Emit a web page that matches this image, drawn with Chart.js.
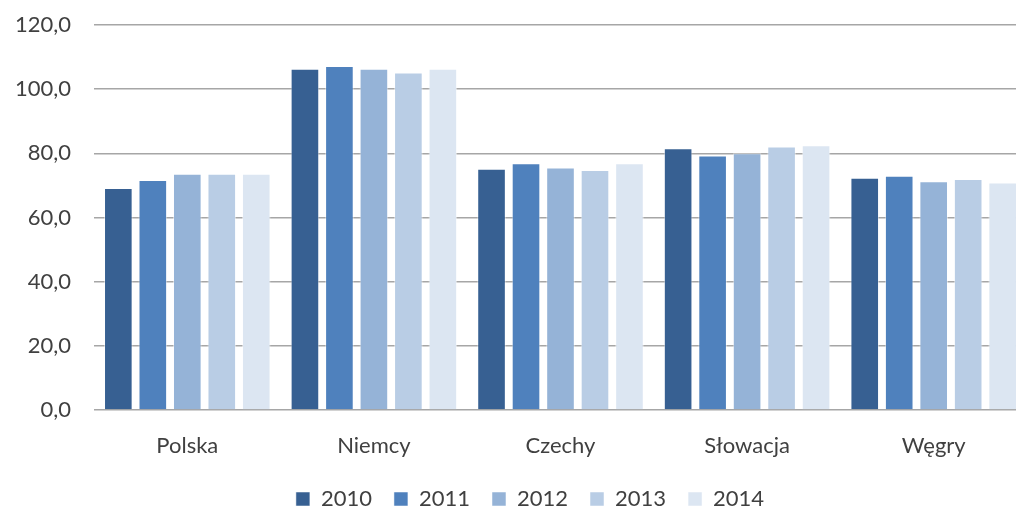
<!DOCTYPE html>
<html lang="pl">
<head>
<meta charset="utf-8">
<title>Wskaźnik 2010–2014</title>
<script src="https://cdn.jsdelivr.net/npm/chart.js@4/dist/chart.umd.min.js"></script>
<style>
  html, body { margin: 0; padding: 0; background: #fff; overflow: hidden; }
  #wrap { width: 1060px; height: 508px; }
</style>
</head>
<body>
<div id="wrap"><canvas id="countryChart" width="1060" height="508"></canvas></div>
<script>
const countries = ['Polska', 'Niemcy', 'Czechy', 'Słowacja', 'Węgry'];
const years = ['2010', '2011', '2012', '2013', '2014'];
const yearColors = ['#376092', '#4f81bd', '#95b3d7', '#b9cde5', '#dce6f2'];
const yTicks = [0, 20, 40, 60, 80, 100, 120];

// one array per year, in the order of countries
const v2010 = [69.2, 106.4, 75.2, 81.6, 72.4];
const v2011 = [71.7, 107.2, 76.9, 79.3, 73.0];
const v2012 = [73.6, 106.4, 75.6, 80.0, 71.3];
const v2013 = [73.6, 105.2, 74.8, 82.1, 72.0];
const v2014 = [73.6, 106.4, 76.9, 82.5, 70.9];
const seriesValues = [v2010, v2011, v2012, v2013, v2014];

const textColor = '#404040';
const font = { family: 'Lato, "Noto Sans", sans-serif', size: 22 };

// keep the legend strip short so the plot gets the height
const legendHeight = {
  id: 'legendHeight',
  afterInit(chart) {
    const lg = chart.legend;
    const fit = lg.fit;
    lg.fit = function () {
      fit.call(this);
      this.height = 42;
    };
  }
};

const ctx = document.getElementById('countryChart').getContext('2d');
new Chart(ctx, {
  type: 'bar',
  data: {
    labels: countries,
    datasets: years.map((y, i) => ({
      label: y,
      data: seriesValues[i],
      backgroundColor: yearColors[i],
      borderColor: 'rgba(255,255,255,0.5)',
      borderWidth: 1,
      categoryPercentage: 0.924,
      barPercentage: 0.83,
      yAxisID: 'y'
    }))
  },
  options: {
    responsive: false,
    animation: false,
    layout: { padding: { top: 25, left: 0, right: 0, bottom: 0 } },
    plugins: {
      tooltip: { enabled: false },
      legend: {
        position: 'bottom',
        labels: {
          color: textColor,
          font: font,
          boxWidth: 14,
          boxHeight: 14,
          padding: 22
        }
      }
    },
    scales: {
      x: {
        grid: { display: false },
        border: { display: false },
        afterFit: s => { s.height = 56; },
        ticks: { color: textColor, font: font, padding: 15 }
      },
      y: {
        min: 0,
        max: 120,
        afterBuildTicks: s => { s.ticks = yTicks.map(v => ({ value: v })); },
        afterFit: s => { s.width = 94; },
        // invisible tick stubs make the gap between labels and grid
        grid: { color: '#a6a6a6', lineWidth: 1.6, drawTicks: true, tickLength: 23, tickColor: 'rgba(0,0,0,0)' },
        border: { display: false },
        ticks: {
          color: textColor,
          font: font,
          padding: 0,
          callback: v => v.toFixed(1).replace('.', ',')
        }
      },
      // empty right gutter so the plot runs past the visible edge
      yRight: {
        position: 'right',
        display: true,
        grid: { display: false, drawTicks: false },
        border: { display: false },
        ticks: { display: false },
        afterFit: s => { s.width = 33; }
      }
    }
  },
  plugins: [legendHeight]
});
</script>
</body>
</html>
